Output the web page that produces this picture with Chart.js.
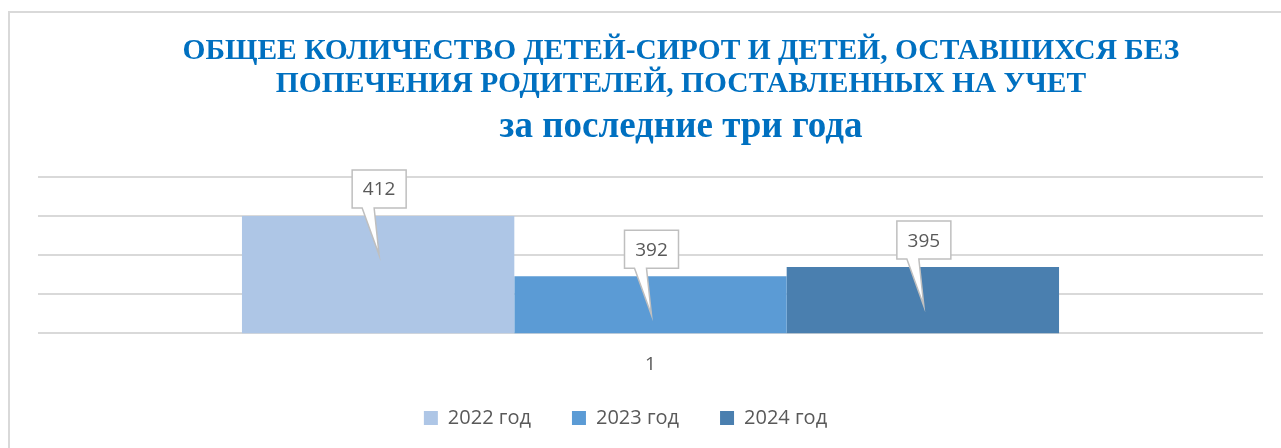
<!DOCTYPE html>
<html lang="ru">
<head>
<meta charset="UTF-8">
<title>Дети-сироты</title>
<script src="https://cdn.jsdelivr.net/npm/chart.js@4.4.1/dist/chart.umd.min.js"></script>
<style>
    html, body {
        margin: 0;
        padding: 0;
        background: #ffffff;
    }
    #chart-container {
        position: relative;
        width: 1281px;
        height: 448px;
    }
</style>
</head>
<body>
<div id="chart-container">
    <canvas id="graph"></canvas>
</div>
<script>
/********************
 * Global variables *
 ********************/
const categories = ['1'];
const seriesLabels = ['2022 год', '2023 год', '2024 год'];
const seriesValues = [412, 392, 395];
const titleLines = [
    'ОБЩЕЕ КОЛИЧЕСТВО ДЕТЕЙ-СИРОТ И ДЕТЕЙ, ОСТАВШИХСЯ БЕЗ',
    'ПОПЕЧЕНИЯ РОДИТЕЛЕЙ, ПОСТАВЛЕННЫХ НА УЧЕТ'
];
const subtitleText = 'за последние три года';
const colorPalette = [
    '#AEC6E6', // Light blue
    '#5B9BD5', // Blue
    '#4A7FAF'  // Dark blue
];

const textColor = '#595959';
const gridColor = '#d9d9d9';
const titleColor = '#0070C0';
const sansFont = '"Open Sans", "Noto Sans", sans-serif';
const serifFont = '"Liberation Serif", "DejaVu Serif", serif';


/**
 * Draws the outer frame and the title lines.
 */
const titlePlugin = {
    id: 'titlePlugin',
    beforeDraw(chart) {
        const ctx = chart.ctx;
        ctx.save();
        ctx.strokeStyle = gridColor;
        ctx.lineWidth = 2;
        ctx.strokeRect(9, 12, 1400, 600);

        const centerX = 681;
        ctx.fillStyle = titleColor;
        ctx.textAlign = 'center';
        ctx.textBaseline = 'alphabetic';
        ctx.font = `bold 29.5px ${serifFont}`;
        ctx.fillText(titleLines[0], centerX, 59);
        ctx.fillText(titleLines[1], centerX, 92);
        ctx.font = `bold 37px ${serifFont}`;
        ctx.fillText(subtitleText, centerX, 137);
        ctx.restore();
    }
};

/**
 * Nudges the legend box a little left and up, like in the original.
 */
const legendShiftPlugin = {
    id: 'legendShiftPlugin',
    afterLayout(chart) {
        const legend = chart.legend;
        if (!legend) {
            return;
        }
        legend.left -= 25;
        legend.right -= 25;
        legend.top -= 29;
        legend.bottom -= 29;
    }
};

/**
 * Draws the callout boxes with the values above each bar.
 */
const calloutPlugin = {
    id: 'calloutPlugin',
    afterDatasetsDraw(chart) {
        const ctx = chart.ctx;
        ctx.save();
        chart.data.datasets.forEach((dataset, index) => {
            const bar = chart.getDatasetMeta(index).data[0];
            const x = bar.x;
            const top = bar.y;
            const boxWidth = 54;
            const boxLeft = x - boxWidth / 2 + 1;
            const boxRight = boxLeft + boxWidth;
            const boxTop = top - 46;
            const boxBottom = top - 8;

            ctx.beginPath();
            ctx.moveTo(boxLeft, boxTop);
            ctx.lineTo(boxRight, boxTop);
            ctx.lineTo(boxRight, boxBottom);
            ctx.lineTo(x - 4, boxBottom);
            ctx.lineTo(x + 1, top + 39);
            ctx.lineTo(x - 16, boxBottom);
            ctx.lineTo(boxLeft, boxBottom);
            ctx.closePath();
            ctx.fillStyle = '#ffffff';
            ctx.fill();
            ctx.strokeStyle = '#bfbfbf';
            ctx.lineWidth = 1.5;
            ctx.stroke();

            ctx.fillStyle = textColor;
            ctx.font = `19px ${sansFont}`;
            ctx.textAlign = 'center';
            ctx.textBaseline = 'middle';
            ctx.fillText(String(dataset.data[0]), boxLeft + boxWidth / 2, (boxTop + boxBottom) / 2 + 1);
        });
        ctx.restore();
    }
};


/**
 * Creates a dataset for one year.
 * @param {number} index - The index of the series.
 * @returns {Object} - The dataset object.
 */
function createDataset(index) {
    return {
        label: seriesLabels[index],
        data: [seriesValues[index]],
        backgroundColor: colorPalette[index],
        borderWidth: 0,
        barPercentage: 1,
        categoryPercentage: 0.667
    };
}

/**
 * Creates the chart.
 */
function createChart() {
    const context = document.getElementById('graph').getContext('2d');
    return new Chart(context, {
        type: 'bar',
        data: {
            labels: categories,
            datasets: seriesLabels.map((_, i) => createDataset(i))
        },
        plugins: [titlePlugin, legendShiftPlugin, calloutPlugin],
        options: {
            responsive: true,
            maintainAspectRatio: false,
            animation: false,
            layout: {
                padding: {left: 38, right: 18, top: 177, bottom: -19}
            },
            plugins: {
                title: {display: false},
                tooltip: {enabled: false},
                legend: {
                    position: 'bottom',
                    labels: {
                        color: textColor,
                        font: {family: sansFont, size: 20},
                        boxWidth: 14,
                        boxHeight: 14,
                        padding: 41
                    }
                }
            },
            scales: {
                x: {
                    grid: {display: false, drawTicks: false},
                    border: {display: false},
                    ticks: {
                        color: textColor,
                        font: {family: sansFont, size: 19},
                        padding: 20
                    }
                },
                y: {
                    min: 373,
                    max: 425,
                    grid: {color: gridColor, lineWidth: 2, drawTicks: false},
                    border: {display: false},
                    ticks: {display: false, stepSize: 13}
                }
            }
        }
    });
}

createChart();
</script>
</body>
</html>
